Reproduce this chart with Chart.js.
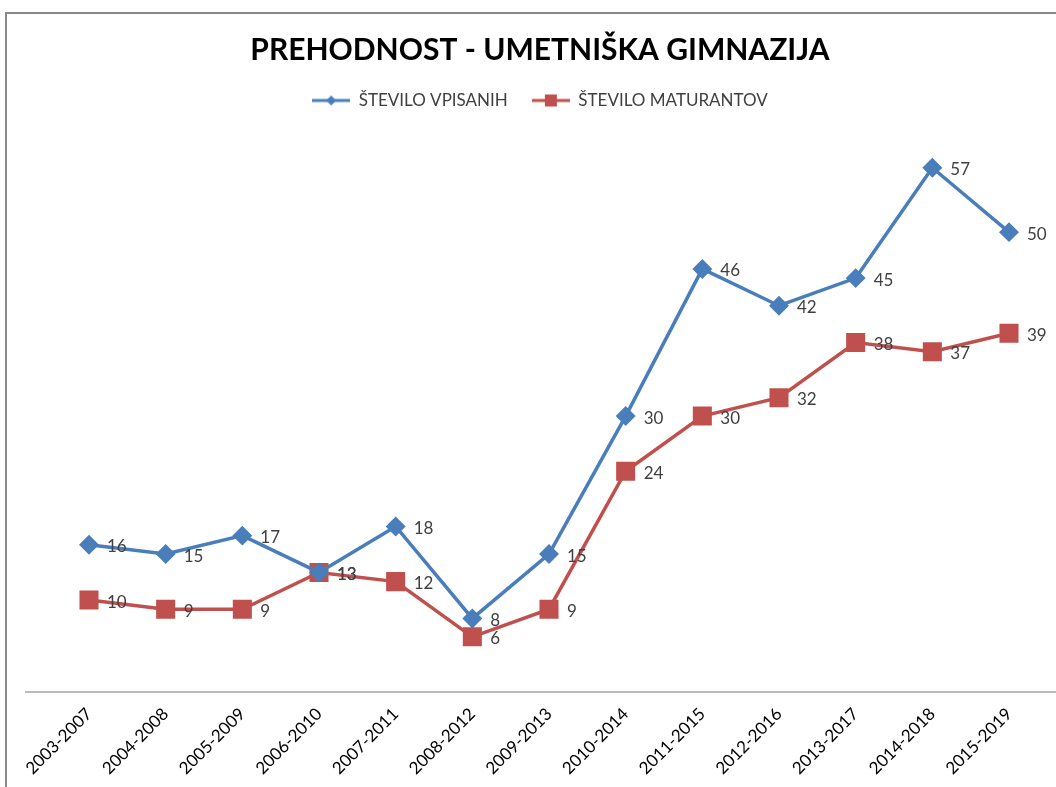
<!DOCTYPE html>
<html>
<head>
<meta charset="utf-8">
<script src="https://cdn.jsdelivr.net/npm/chart.js@4.4.1/dist/chart.umd.min.js"></script>
<style>
  html, body { margin: 0; padding: 0; background: #fff; overflow: hidden; }
  #okvir { position: absolute; left: 5px; top: 12px; width: 1200px; height: 900px; border: 2px solid #8a8a8a; }
  #graf { position: absolute; left: 0; top: 0; }
</style>
</head>
<body>
<div id="okvir"></div>
<canvas id="graf" width="1056" height="787"></canvas>
<script>
// podatki
const obdobja = ['2003-2007', '2004-2008', '2005-2009', '2006-2010', '2007-2011', '2008-2012', '2009-2013',
  '2010-2014', '2011-2015', '2012-2016', '2013-2017', '2014-2018', '2015-2019'];
const vpisani = [16, 15, 17, 13, 18, 8, 15, 30, 46, 42, 45, 57, 50];
const maturanti = [10, 9, 9, 13, 12, 6, 9, 24, 30, 32, 38, 37, 39];

const modra = '#4a7ebb';
const rdeca = '#c0504d';
const pisava = 'Lato, "Open Sans", sans-serif';

// ikona za legendo: črta + oznaka
function ikona(barva, oblika) {
  const c = document.createElement('canvas');
  c.width = 38; c.height = 14;
  const g = c.getContext('2d');
  g.strokeStyle = barva; g.lineWidth = 3;
  g.beginPath(); g.moveTo(0, 7); g.lineTo(38, 7); g.stroke();
  g.fillStyle = barva;
  if (oblika === 'romb') {
    g.beginPath(); g.moveTo(19, 2); g.lineTo(24, 7); g.lineTo(19, 12); g.lineTo(14, 7); g.closePath(); g.fill();
  } else {
    g.fillRect(13, 1, 12, 12);
  }
  return c;
}

// os x kot dolga siva črta
const osnaCrta = {
  id: 'osnaCrta',
  beforeDatasetsDraw(chart) {
    const y = chart.scales.y.getPixelForValue(0);
    const ctx = chart.ctx;
    ctx.save();
    ctx.strokeStyle = '#a6a6a6';
    ctx.lineWidth = 1.5;
    ctx.beginPath(); ctx.moveTo(25, y); ctx.lineTo(1056, y); ctx.stroke();
    ctx.restore();
  }
};

// oznake vrednosti desno od točk
const oznake = {
  id: 'oznake',
  afterDatasetsDraw(chart) {
    const ctx = chart.ctx;
    ctx.save();
    ctx.font = '17px ' + pisava;
    ctx.fillStyle = '#404040';
    ctx.textBaseline = 'middle';
    chart.data.datasets.forEach((ds, i) => {
      chart.getDatasetMeta(i).data.forEach((p, j) => {
        ctx.fillText(ds.data[j], p.x + 18, p.y + 2);
      });
    });
    ctx.restore();
  }
};

new Chart(document.getElementById('graf'), {
  type: 'line',
  data: {
    labels: obdobja,
    datasets: [{
      label: 'ŠTEVILO VPISANIH',
      data: vpisani,
      borderColor: modra,
      backgroundColor: modra,
      borderWidth: 3.5,
      pointStyle: 'rectRot',
      pointRadius: 7.5,
      pointHoverRadius: 7.5,
      tension: 0
    }, {
      label: 'ŠTEVILO MATURANTOV',
      data: maturanti,
      borderColor: rdeca,
      backgroundColor: rdeca,
      borderWidth: 3.5,
      pointStyle: 'rect',
      pointRadius: 11,
      pointHoverRadius: 11,
      tension: 0
    }]
  },
  options: {
    responsive: false,
    animation: false,
    layout: { padding: { left: 71, right: 47, top: 0, bottom: 0 } },
    plugins: {
      title: {
        display: true,
        text: 'PREHODNOST - UMETNIŠKA GIMNAZIJA',
        color: '#000',
        font: { family: pisava, size: 30, weight: 'bold' },
        padding: { top: 32, bottom: 0 }
      },
      legend: {
        position: 'top',
        labels: {
          color: '#404040',
          font: { family: pisava, size: 17 },
          usePointStyle: true,
          pointStyleWidth: 38,
          boxWidth: 38,
          boxHeight: 14,
          padding: 24,
          generateLabels: () => [
            { text: 'ŠTEVILO VPISANIH', pointStyle: ikona(modra, 'romb'), fontColor: '#404040', datasetIndex: 0 },
            { text: 'ŠTEVILO MATURANTOV', pointStyle: ikona(rdeca, 'kvadrat'), fontColor: '#404040', datasetIndex: 1 }
          ]
        }
      },
      tooltip: { enabled: false }
    },
    scales: {
      x: {
        offset: false,
        grid: { display: false },
        border: { display: false },
        ticks: { color: '#000', font: { family: pisava, size: 17 }, minRotation: 45, maxRotation: 45, padding: 4 },
        afterFit(scale) { scale.height = 95; scale.paddingLeft = 89; }
      },
      y: {
        display: false,
        min: 0,
        max: 62.3
      }
    }
  },
  plugins: [osnaCrta, oznake]
});
</script>
</body>
</html>
